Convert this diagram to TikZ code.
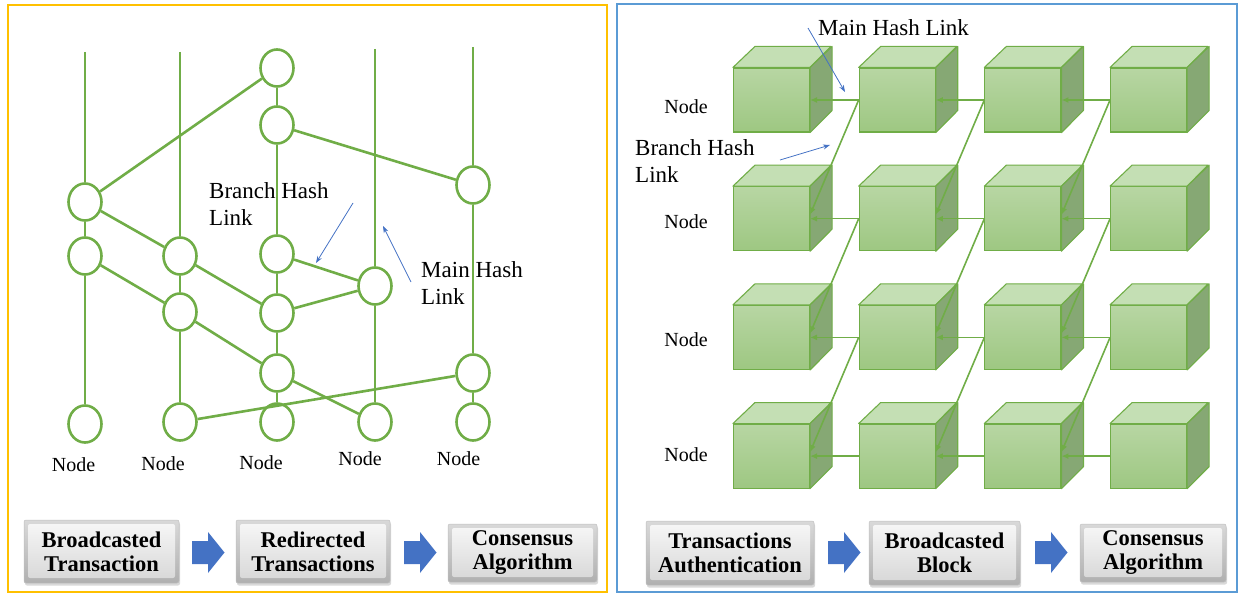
\documentclass[tikz,border=0pt]{standalone}
\usepackage{fontspec}
\setmainfont{Liberation Serif}
\usetikzlibrary{shapes.geometric,arrows.meta,shadows}

\definecolor{hashgreen}{HTML}{70AD47}
\definecolor{pointerblue}{HTML}{4472C4}
\definecolor{panelyellow}{HTML}{FFC000}
\definecolor{panelblue}{HTML}{5B9BD5}
\definecolor{cubetopc}{HTML}{C4DFB4}
\definecolor{cubesidec}{HTML}{86A874}

\tikzset{
  chain/.style={draw=hashgreen, line width=2.6pt},
  blk/.style={ellipse, draw=hashgreen, line width=2.6pt, minimum width=33pt, minimum height=37pt, inner sep=0pt},
  lbl/.style={font=\fontsize{20}{22}\selectfont, inner sep=0pt},
  hashlbl/.style={font=\fontsize{23}{27}\selectfont, align=left, anchor=west, inner sep=0pt},
  pointer/.style={draw=pointerblue, line width=0.8pt, -{Stealth[length=7pt,width=5pt]}},
  stage/.style={rectangle, rounded corners=2pt, top color=gray!30, bottom color=gray!62, draw=gray!50, line width=0.5pt,
    font=\bfseries\fontsize{22.5}{24}\selectfont, align=center, inner sep=0pt,
    drop shadow={shadow xshift=1pt, shadow yshift=-2.5pt, opacity=0.3},
    path picture={\shade[top color=gray!6, bottom color=gray!32]
      ([shift={(4pt,-4pt)}]path picture bounding box.north west) rectangle
      ([shift={(-4pt,5pt)}]path picture bounding box.south east);}},
  flowarrow/.pic={\fill[pointerblue] (0,-11.5) -- (16,-11.5) -- (16,-20.5) -- (32.5,0) -- (16,20.5) -- (16,11.5) -- (0,11.5) -- cycle;},
  cube/.style={rectangle, draw=hashgreen, line width=1.1pt, top color=hashgreen!50!white, bottom color=hashgreen!68!white,
    minimum width=76pt, minimum height=64pt, inner sep=0pt},
  cubetop/.style={fill=cubetopc, draw=hashgreen, line width=1.1pt, line join=round},
  cubeside/.style={fill=cubesidec, draw=hashgreen, line width=1.1pt, line join=round},
  hlink/.style={draw=hashgreen, line width=1.6pt, -{Latex[length=7pt,width=6pt]}}
}

\begin{document}
\begin{tikzpicture}[x=1pt,y=-1pt]
  \useasboundingbox (0,0) rectangle (1238,593);
  \draw[panelyellow, line width=1.2pt] (8,5) rectangle (607,592);
  \draw[panelblue, line width=1.2pt] (617,4) rectangle (1237,592);

  % left panel: hash chains
  \coordinate (atop) at (85,52);
  \coordinate (btop) at (180,52);
  \coordinate (dtop) at (375,49);
  \coordinate (etop) at (473,47);
  \node[blk] (a1) at (85,202) {};
  \node[blk] (a2) at (85,256) {};
  \node[blk] (a0) at (85,424) {};
  \node[blk] (b1) at (180,256) {};
  \node[blk] (b2) at (180,312) {};
  \node[blk] (b0) at (180,422) {};
  \node[blk] (c1) at (277,68) {};
  \node[blk] (c2) at (277,125) {};
  \node[blk] (c3) at (277,254) {};
  \node[blk] (c4) at (277,313) {};
  \node[blk] (c5) at (277,373) {};
  \node[blk] (c0) at (277,422) {};
  \node[blk] (d1) at (375,286) {};
  \node[blk] (d0) at (375,422) {};
  \node[blk] (e1) at (473,185) {};
  \node[blk] (e2) at (473,373) {};
  \node[blk] (e0) at (473,422) {};

  \node[lbl] (n1) at (73.5,465) {Node};
  \node[lbl] (n2) at (163,464) {Node};
  \node[lbl] (n3) at (261,463) {Node};
  \node[lbl] (n4) at (360,459) {Node};
  \node[lbl] (n5) at (458.5,459) {Node};

  \begin{scope}[chain]
    \draw (atop) to (a1);
    \draw (a1) to (a2);
    \draw (a2) to (a0);
    \draw (btop) to (b1);
    \draw (b1) to (b2);
    \draw (b2) to (b0);
    \draw (c1) to (c2);
    \draw (c2) to (c3);
    \draw (c3) to (c4);
    \draw (c4) to (c5);
    \draw (c5) to (c0);
    \draw (dtop) to (d1);
    \draw (d1) to (d0);
    \draw (etop) to (e1);
    \draw (e1) to (e2);
    \draw (e2) to (e0);
    \draw (a1) to (c1);
    \draw (c2) to (e1);
    \draw (a1) to (b1);
    \draw (a2) to (b2);
    \draw (b1) to (c4);
    \draw (c3) to (d1);
    \draw (c4) to (d1);
    \draw (b2) to (c5);
    \draw (c5) to (d0);
    \draw (b0) to (e2);
  \end{scope}

  \node[hashlbl] (bhl) at (209,204) {Branch Hash\\Link};
  \coordinate (bhs) at (353,203);
  \coordinate (bhe) at (316,263);
  \draw[pointer] (bhs) -- (bhe);
  \node[hashlbl] (mhl) at (421,283) {Main Hash\\Link};
  \coordinate (mhs) at (411,282);
  \coordinate (mhe) at (383,226);
  \draw[pointer] (mhs) -- (mhe);

  \node[stage, minimum width=155pt, minimum height=63pt] (s1) at (101.5,551.5) {Broadcasted\\Transaction};
  \node[stage, minimum width=154pt, minimum height=63pt] (s2) at (313,551.5) {Redirected\\Transactions};
  \node[stage, minimum width=149pt, minimum height=58pt] (s3) at (522.5,553) {Consensus\\Algorithm};
  \pic (f1) at (192,552.5) {flowarrow};
  \pic (f2) at (404,552.5) {flowarrow};

  % right panel: block lattice
  \foreach \r in {1,...,4}
    \foreach \c in {1,...,4}{
      \node[cube] (q\r\c) at ({771.5+125.7*(\c-1)},{100+118.7*(\r-1)}) {};
      \filldraw[cubetop] (q\r\c.north west) -- ++(22,-21) -- ++(76,0) -- (q\r\c.north east) -- cycle;
      \filldraw[cubeside] (q\r\c.north east) -- ++(22,-21) -- ++(0,64) -- (q\r\c.south east) -- cycle;
    }

  \begin{scope}[hlink]
    \draw (q12.west) -- (q11.east);
    \draw (q13.west) -- (q12.east);
    \draw (q14.west) -- (q13.east);
    \draw (q22.west) -- (q21.east);
    \draw (q23.west) -- (q22.east);
    \draw (q24.west) -- (q23.east);
    \draw (q32.west) -- (q31.east);
    \draw (q33.west) -- (q32.east);
    \draw (q34.west) -- (q33.east);
    \draw (q42.west) -- (q41.east);
    \draw (q43.west) -- (q42.east);
    \draw (q44.west) -- (q43.east);
    \draw (q12.west) -- ([yshift=4pt]q21.east);
    \draw (q13.west) -- ([yshift=4pt]q22.east);
    \draw (q14.west) -- ([yshift=4pt]q23.east);
    \draw (q22.west) -- ([yshift=4pt]q31.east);
    \draw (q23.west) -- ([yshift=4pt]q32.east);
    \draw (q24.west) -- ([yshift=4pt]q33.east);
    \draw (q32.west) -- ([yshift=4pt]q41.east);
    \draw (q33.west) -- ([yshift=4pt]q42.east);
    \draw (q34.west) -- ([yshift=4pt]q43.east);
  \end{scope}

  \node[lbl] (m1) at (686,107) {Node};
  \node[lbl] (m2) at (686,222) {Node};
  \node[lbl] (m3) at (686,340) {Node};
  \node[lbl] (m4) at (686,455) {Node};

  \node[hashlbl] (rmhl) at (818,28) {Main Hash Link};
  \coordinate (rmhs) at (808,28);
  \coordinate (rmhe) at (845,92);
  \draw[pointer] (rmhs) -- (rmhe);
  \node[hashlbl] (rbhl) at (635,161.5) {Branch Hash\\Link};
  \coordinate (rbhs) at (780,160);
  \coordinate (rbhe) at (830,145);
  \draw[pointer] (rbhs) -- (rbhe);

  \node[stage, minimum width=168pt, minimum height=64pt] (t1) at (730,553) {Transactions\\Authentication};
  \node[stage, minimum width=151pt, minimum height=64pt] (t2) at (944.5,553) {Broadcasted\\Block};
  \node[stage, minimum width=146pt, minimum height=58pt] (t3) at (1153,553) {Consensus\\Algorithm};
  \pic (g1) at (828,552.5) {flowarrow};
  \pic (g2) at (1035,552.5) {flowarrow};
\end{tikzpicture}
\end{document}
